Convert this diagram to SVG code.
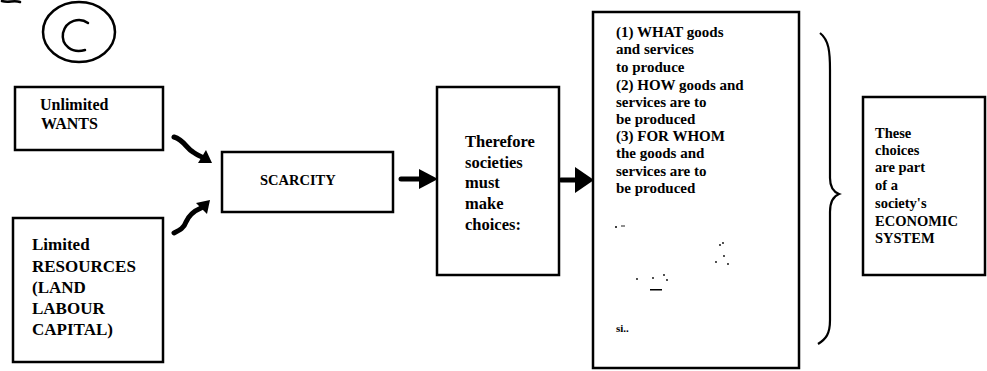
<svg xmlns="http://www.w3.org/2000/svg" width="987" height="371" viewBox="0 0 987 371">
<style>
.box{fill:#fff;stroke:#000;stroke-width:2.5}
.t{font-family:"Liberation Serif","DejaVu Serif",serif;font-weight:bold;fill:#000}
.arr{fill:none;stroke:#000;stroke-width:5;stroke-linecap:round}
.head{fill:#000}
.mark{fill:none;stroke:#000;stroke-width:2.5;stroke-linecap:round}
</style>
<rect width="987" height="371" fill="#fff"/>
<g id="logo">
<ellipse cx="79" cy="32" rx="36" ry="30" class="mark"/>
<path d="M88,23 C80,17 66,20 63,33 C61,45 72,54 85,50" class="mark" stroke-width="3"/>
<path d="M2,1 C8,3 14,0 20,2" class="mark" stroke-width="1.5"/>
</g>
<g id="wants">
<rect x="15" y="87" width="148" height="63" class="box"/>
<text class="t" font-size="16" x="40" y="110">Unlimited</text>
<text class="t" font-size="16" x="41" y="129">WANTS</text>
</g>
<g id="resources">
<rect x="13" y="218" width="150" height="144" class="box"/>
<text class="t" font-size="17"><tspan x="32" y="250">Limited</tspan><tspan x="32" y="272">RESOURCES</tspan><tspan x="32" y="293">(LAND</tspan><tspan x="32" y="314">LABOUR</tspan><tspan x="32" y="335">CAPITAL)</tspan></text>
</g>
<g id="scarcity">
<rect x="222" y="152" width="171" height="60" class="box"/>
<text class="t" font-size="14.5" x="260" y="185">SCARCITY</text>
</g>
<g id="choices">
<rect x="437" y="87" width="122" height="188" class="box"/>
<text class="t" font-size="16.5"><tspan x="465" y="147">Therefore</tspan><tspan x="465" y="168">societies</tspan><tspan x="465" y="188">must</tspan><tspan x="465" y="209">make</tspan><tspan x="465" y="230">choices:</tspan></text>
</g>
<g id="questions">
<rect x="593" y="12" width="206" height="356" class="box"/>
<text class="t" font-size="15"><tspan x="616" y="37">(1) WHAT goods</tspan><tspan x="616" y="54">and services</tspan><tspan x="616" y="72">to produce</tspan><tspan x="616" y="90">(2) HOW goods and</tspan><tspan x="616" y="107">services are to</tspan><tspan x="616" y="124">be produced</tspan><tspan x="616" y="141">(3) FOR WHOM</tspan><tspan x="616" y="158">the goods and</tspan><tspan x="616" y="176">services are to</tspan><tspan x="616" y="193">be produced</tspan></text>
<text class="t" font-size="11" x="616" y="332">si..</text>
<g fill="#000">
<circle cx="616" cy="227" r="1"/><circle cx="622" cy="226" r="0.8"/><circle cx="624" cy="226" r="0.8"/>
<circle cx="720" cy="245" r="0.9"/><circle cx="723" cy="243" r="0.9"/><circle cx="716" cy="262" r="0.9"/><circle cx="724" cy="256" r="0.9"/><circle cx="728" cy="264" r="0.9"/>
<circle cx="637" cy="279" r="0.9"/><circle cx="653" cy="278" r="0.9"/><circle cx="664" cy="275" r="0.9"/><circle cx="667" cy="280" r="0.9"/>
<rect x="650" y="289" width="12" height="1.5"/>
</g>
</g>
<g id="brace">
<path d="M820,33 C829,40 830,52 830,70 L830,178 C830,188 834,192 839,194 C834,196 830,200 830,212 L830,320 C830,334 826,339 818,344" fill="none" stroke="#000" stroke-width="2.2"/>
</g>
<g id="system">
<rect x="863" y="97" width="122" height="178" class="box"/>
<text class="t" font-size="14.5"><tspan x="875" y="138">These</tspan><tspan x="875" y="155">choices</tspan><tspan x="875" y="172">are part</tspan><tspan x="875" y="190">of a</tspan><tspan x="875" y="208">society's</tspan><tspan x="875" y="226">ECONOMIC</tspan><tspan x="875" y="243">SYSTEM</tspan></text>
</g>
<g id="connectors">
<path class="arr" d="M174,137 C184,140 186,148 193,152 C196,154 199,156 202,157"/>
<polygon class="head" points="212,163 198,163 206,150"/>
<path class="arr" d="M174,233 C180,230 184,228 186,222 C189,215 194,211 201,208"/>
<polygon class="head" points="210,200 207,214 196,203"/>
<path class="arr" d="M401,179 L422,179"/>
<polygon class="head" points="419,169 438,179 419,189"/>
<path class="arr" d="M561,180 L578,180"/>
<polygon class="head" points="575,167 594,180 575,193"/>
</g>
</svg>
